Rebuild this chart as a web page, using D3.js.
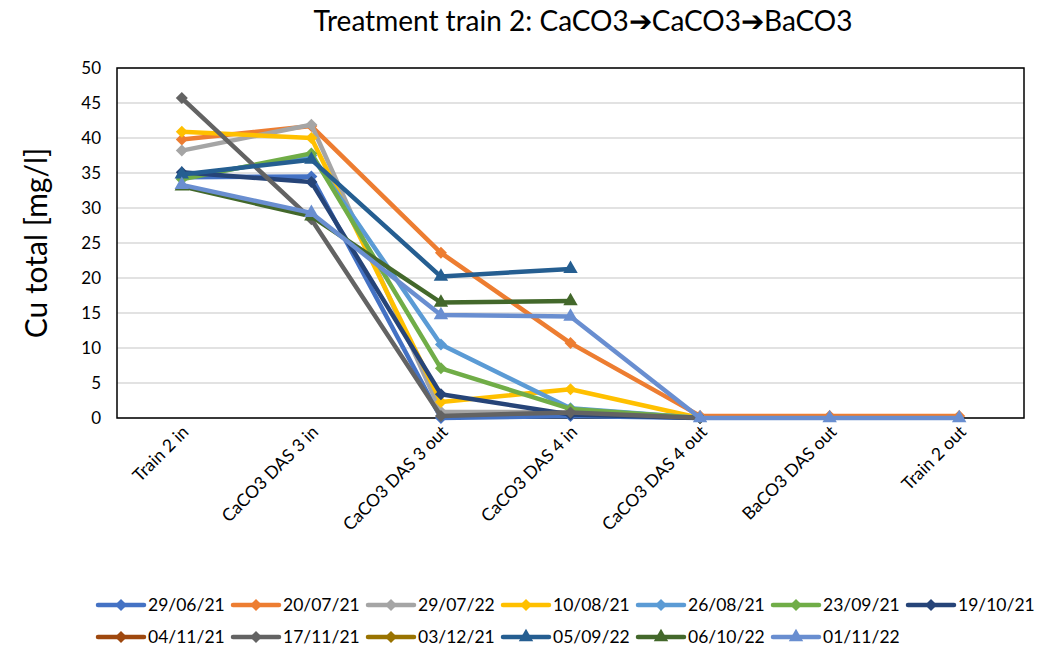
<!DOCTYPE html>
<html lang="en">
<head>
<meta charset="UTF-8">
<title>Treatment train 2</title>
<style>
    body { margin: 0; background: #fff; font-family: Lato, "Noto Sans", sans-serif; }
    svg { display: block; }
</style>
</head>
<body>
<svg id="chart" width="1044" height="652"></svg>
<script src="https://d3js.org/d3.v7.min.js"></script>
<script>
// categories along the treatment train
const stages = ["Train 2 in", "CaCO3 DAS 3 in", "CaCO3 DAS 3 out", "CaCO3 DAS 4 in",
                "CaCO3 DAS 4 out", "BaCO3 DAS out", "Train 2 out"];
const yTicks = [0, 5, 10, 15, 20, 25, 30, 35, 40, 45, 50];

// sampling dates (legend order)
const dates = ["29/06/21", "20/07/21", "29/07/22", "10/08/21", "26/08/21", "23/09/21", "19/10/21",
               "04/11/21", "17/11/21", "03/12/21", "05/09/22", "06/10/22", "01/11/22"];
const colors = ["#4472C4", "#ED7D31", "#A5A5A5", "#FFC000", "#5B9BD5", "#70AD47", "#264478",
                "#9E480E", "#636363", "#997300", "#255E91", "#43682B", "#698ED0"];
const markers = ["diamond", "diamond", "diamond", "diamond", "diamond", "diamond", "diamond",
                 "diamond", "diamond", "diamond", "triangle", "triangle", "triangle"];

// Cu total [mg/l] per stage, null = no measurement
const v290621 = [34.4, 34.5, 0, 0.3, 0, null, null];
const v200721 = [39.8, 41.7, 23.6, 10.7, 0.3, 0.3, 0.3];
const v290722 = [38.2, 41.9, 0.9, 0.8, 0.1, null, null];
const v100821 = [40.9, 40.0, 2.3, 4.1, 0, null, null];
const v260821 = [34.3, 37.5, 10.5, 1.4, 0, null, null];
const v230921 = [34.1, 37.8, 7.1, 1.3, 0, null, null];
const v191021 = [35.1, 33.7, 3.4, 0.5, 0, null, null];
const v041121 = [null, null, null, null, null, null, null];
const v171121 = [45.7, 28.4, 0.3, 0.8, 0, null, null];
const v031221 = [null, null, null, null, null, null, null];
const v050922 = [34.8, 36.9, 20.2, 21.3, null, null, null];
const v061022 = [33.1, 28.8, 16.5, 16.7, null, null, null];
const v011122 = [33.3, 29.3, 14.7, 14.5, 0, 0, 0];
const values = [v290621, v200721, v290722, v100821, v260821, v230921, v191021,
                v041121, v171121, v031221, v050922, v061022, v011122];

const svg = d3.select("#chart");
const plotL = 117, plotR = 1024, plotT = 68, plotB = 418;

const x = d3.scalePoint().domain(stages).range([plotL, plotR]).padding(0.5);
const y = d3.scaleLinear().domain([0, 50]).range([plotB, plotT]);

// title
svg.append("text")
    .attr("x", 583).attr("y", 31)
    .attr("text-anchor", "middle")
    .attr("font-size", 28)
    .attr("fill", "#000")
    .text("Treatment train 2: CaCO3\u2794CaCO3\u2794BaCO3");

// gridlines
svg.append("g").selectAll("line")
    .data(yTicks)
    .join("line")
    .attr("x1", plotL).attr("x2", plotR)
    .attr("y1", d => y(d)).attr("y2", d => y(d))
    .attr("stroke", "#D9D9D9")
    .attr("stroke-width", 1.5);

// plot frame
svg.append("rect")
    .attr("x", plotL).attr("y", plotT)
    .attr("width", plotR - plotL).attr("height", plotB - plotT)
    .attr("fill", "none")
    .attr("stroke", "#000")
    .attr("stroke-width", 1.5);

// y axis labels
const yAxis = svg.append("g")
    .attr("transform", `translate(${plotL},0)`)
    .call(d3.axisLeft(y).tickValues(yTicks).tickSize(0).tickPadding(16));
yAxis.select(".domain").remove();
yAxis.selectAll("text").attr("font-size", 17).attr("font-family", "Lato, sans-serif").attr("fill", "#000");

svg.append("text")
    .attr("transform", `translate(47,${(plotT + plotB) / 2}) rotate(-90)`)
    .attr("text-anchor", "middle")
    .attr("font-size", 30)
    .attr("fill", "#000")
    .text("Cu total [mg/l]");

// x axis labels, rotated
svg.append("g").selectAll("text")
    .data(stages)
    .join("text")
    .attr("transform", d => `translate(${x(d) + 8},${plotB + 15}) rotate(-45)`)
    .attr("text-anchor", "end")
    .attr("font-size", 17.5)
    .attr("fill", "#000")
    .text(d => d);

const diamond = d3.symbol().type(d3.symbolSquare).size(72);
const triangle = d3.symbol().type(d3.symbolTriangle).size(90);
const markerPath = (m) => m === "diamond" ? diamond() : triangle();
const markerRot = (m) => m === "diamond" ? " rotate(45)" : "";

const line = d3.line()
    .defined(d => d.v !== null)
    .x(d => x(d.s))
    .y(d => y(d.v));

// series
values.forEach((vals, i) => {
    const pts = vals.map((v, j) => ({ s: stages[j], v: v }));
    const g = svg.append("g");
    g.append("path")
        .datum(pts)
        .attr("fill", "none")
        .attr("stroke", colors[i])
        .attr("stroke-width", 4.5)
        .attr("stroke-linejoin", "round")
        .attr("d", line);
    g.selectAll("path.mk")
        .data(pts.filter(d => d.v !== null))
        .join("path")
        .attr("class", "mk")
        .attr("transform", d => `translate(${x(d.s)},${y(d.v)})${markerRot(markers[i])}`)
        .attr("d", markerPath(markers[i]))
        .attr("fill", colors[i]);
});

// legend
const perRow = 7;
const legend = svg.append("g").selectAll("g")
    .data(dates)
    .join("g")
    .attr("transform", (d, i) => `translate(${98 + (i % perRow) * 135},${605 + Math.floor(i / perRow) * 32})`);
legend.append("line")
    .attr("x1", 0).attr("x2", 46)
    .attr("stroke", (d, i) => colors[i])
    .attr("stroke-width", 4.5)
    .attr("stroke-linecap", "round");
legend.append("path")
    .attr("transform", (d, i) => `translate(23,0)${markerRot(markers[i])}`)
    .attr("d", (d, i) => markerPath(markers[i]))
    .attr("fill", (d, i) => colors[i]);
legend.append("text")
    .attr("x", 50).attr("dy", "0.35em")
    .attr("font-size", 17.5)
    .attr("fill", "#000")
    .text(d => d);
</script>
</body>
</html>
